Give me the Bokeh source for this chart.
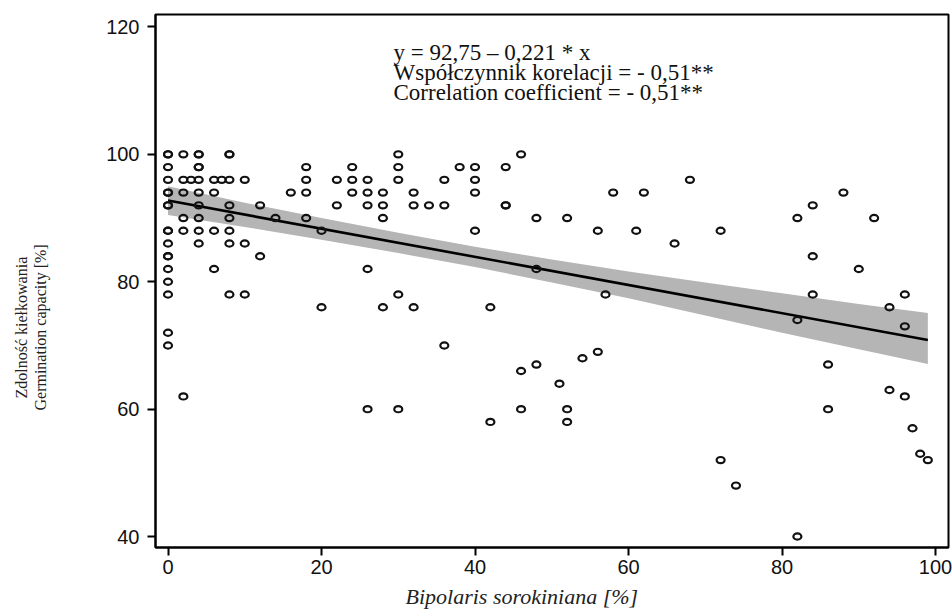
from bokeh.plotting import figure
from bokeh.models import Label, FixedTicker, ColumnDataSource, Title
from bokeh.embed import file_html
from bokeh.resources import INLINE

# ---- data ----
infection = (
    [0] * 18 + [2] * 6 + [3] + [4] * 10 + [6] * 4 + [7] + [8] * 8 + [10] * 3 + [12] * 2
    + [14] + [16] + [18] * 4 + [20] * 2 + [22] * 2 + [24] * 3 + [26] * 5 + [28] * 4
    + [30] * 5 + [32] * 3 + [34] + [36] * 3 + [38] + [40] * 4 + [42] * 2 + [44] * 3
    + [46] * 3 + [48] * 3 + [51] + [52] * 3 + [54] + [56] * 2 + [57] + [58] + [61]
    + [62] + [66] + [68] + [72] * 2 + [74] + [82] * 3 + [84] * 3 + [86] * 2 + [88]
    + [90] + [92] + [94] * 2 + [96] * 3 + [97] + [98] + [99]
)
germination = (
    [100, 100, 98, 96, 94, 94, 92, 92, 88, 88, 86, 84, 84, 82, 80, 78, 72, 70]
    + [100, 96, 94, 90, 88, 62]
    + [96]
    + [100, 100, 98, 98, 96, 94, 92, 90, 88, 86]
    + [96, 94, 88, 82]
    + [96]
    + [100, 100, 96, 92, 90, 88, 86, 78]
    + [96, 86, 78]
    + [92, 84]
    + [90]
    + [94]
    + [98, 96, 94, 90]
    + [88, 76]
    + [96, 92]
    + [98, 96, 94]
    + [96, 94, 92, 82, 60]
    + [94, 92, 90, 76]
    + [100, 98, 96, 78, 60]
    + [94, 92, 76]
    + [92]
    + [96, 92, 70]
    + [98]
    + [98, 96, 94, 88]
    + [76, 58]
    + [98, 92, 92]
    + [100, 66, 60]
    + [90, 82, 67]
    + [64]
    + [90, 60, 58]
    + [68]
    + [88, 69]
    + [78]
    + [94]
    + [88]
    + [94]
    + [86]
    + [96]
    + [88, 52]
    + [48]
    + [90, 74, 40]
    + [92, 84, 78]
    + [67, 60]
    + [94]
    + [82]
    + [90]
    + [76, 63]
    + [78, 73, 62]
    + [57]
    + [53]
    + [52]
)

# regression line (from the printed equation) and its confidence band (read)
intercept = 92.75
slope = -0.221
line_x = [0, 99]
band_x = [0, 10, 20, 30, 40, 50, 60, 70, 80, 90, 99]
band_upper = [95.0, 92.4, 90.0, 87.7, 85.5, 83.5, 81.6, 79.9, 78.2, 76.5, 75.1]
band_lower = [90.5, 88.6, 86.6, 84.5, 82.3, 79.9, 77.4, 74.7, 72.0, 69.4, 67.1]

x_ticks = [0, 20, 40, 60, 80, 100]
y_ticks = [40, 60, 80, 100, 120]

eq_lines = [
    "y = 92,75 \u2013 0,221 * x",
    "Wsp\u00f3\u0142czynnik korelacji = - 0,51**",
    "Correlation coefficient = - 0,51**",
]
y_title_pl = "Zdolno\u015b\u0107 kie\u0142kowania"
y_title_en = "Germination capacity [%]"
x_title = "Bipolaris sorokiniana [%]"

# ---- figure ----
p = figure(
    width=952, height=615,
    x_range=(-1.63, 101.69), y_range=(38.28, 121.96),
    output_backend="svg", toolbar_location=None,
    min_border_left=155, min_border_right=4, min_border_top=14, min_border_bottom=68,
)
p.background_fill_color = "white"
p.border_fill_color = "white"
p.outline_line_color = "black"
p.outline_line_width = 2
p.xgrid.visible = False
p.ygrid.visible = False

p.varea(x=band_x, y1=band_lower, y2=band_upper, fill_color="#b5b5b5", fill_alpha=1.0)
line_y = [intercept + slope * v for v in line_x]
p.line(line_x, line_y, line_color="black", line_width=2.6)

src = ColumnDataSource(dict(x=infection, y=germination))
p.ellipse(x="x", y="y", width=8, height=6.2, width_units="screen", height_units="screen",
          source=src, fill_alpha=0, line_color="#111111", line_width=2.2)

for ax, ticks in ((p.xaxis[0], x_ticks), (p.yaxis[0], y_ticks)):
    ax.ticker = FixedTicker(ticks=ticks)
    ax.minor_tick_line_color = None
    ax.major_tick_in = 0
    ax.major_tick_out = 8
    ax.major_tick_line_width = 2
    ax.major_tick_line_color = "black"
    ax.axis_line_width = 2
    ax.axis_line_color = "black"
    ax.major_label_text_font = "Liberation Sans"
    ax.major_label_text_font_size = "20px"
    ax.major_label_text_color = "#111111"
p.xaxis.major_label_standoff = 4
p.yaxis.major_label_standoff = 8

serif = "Liberation Serif"
for i, t in enumerate(eq_lines):
    p.add_layout(Label(x=238, y=494.7 - 20 * i, x_units="screen", y_units="screen",
                       text=t, text_font=serif, text_font_size="23px",
                       text_color="#111111", text_baseline="alphabetic", text_align="left"))

# y-axis titles (two lines): an empty spacer, then the English line, then the Polish line
p.add_layout(Title(text=" ", text_font=serif, text_font_size="16px", standoff=36), "left")
p.add_layout(Title(text=y_title_en, text_font=serif, text_font_size="16px",
                   text_font_style="normal", text_color="#222222",
                   align="left", offset=137, standoff=0), "left")
p.add_layout(Title(text=y_title_pl, text_font=serif, text_font_size="16px",
                   text_font_style="normal", text_color="#222222",
                   align="left", offset=149, standoff=0), "left")

# x-axis title
p.add_layout(Title(text=x_title, text_font=serif, text_font_size="22px",
                   text_font_style="italic", text_color="#222222",
                   align="left", offset=250, standoff=10), "below")

open("out.html", "w").write(file_html(p, INLINE))
